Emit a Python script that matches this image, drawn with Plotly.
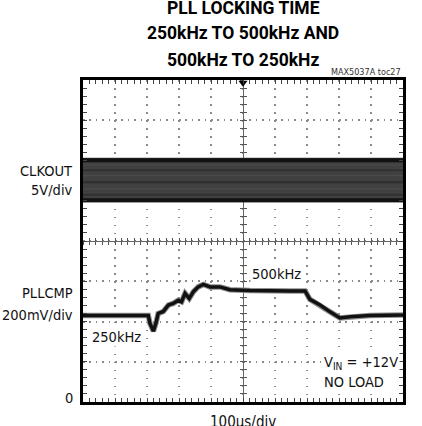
import plotly.graph_objects as go

# ---------------- data (divisions: x 0..10, y 0..8) ----------------
pll_t = [0, 1.78, 2.04, 2.09, 2.20, 2.28, 2.35, 2.51, 2.67, 2.82, 2.98, 3.08,
         3.19, 3.32, 3.45, 3.60, 3.76, 3.97, 4.28, 4.59, 4.91, 5.22, 6.47,
         6.94, 7.09, 7.41, 7.72, 8.03, 8.34, 8.97, 10]
pll_v = [2.15, 2.16, 2.15, 1.96, 1.76, 1.96, 2.20, 2.25, 2.41, 2.45, 2.53, 2.49,
         2.70, 2.57, 2.74, 2.86, 2.92, 2.86, 2.86, 2.79, 2.77, 2.77, 2.76,
         2.76, 2.55, 2.41, 2.24, 2.09, 2.12, 2.15, 2.16]
clk_t = [0, 10]
clk_low = 4.96
clk_high = 6.07

FONT = "DejaVu Sans Condensed, DejaVu Sans, sans-serif"
TFONT = "Roboto, DejaVu Sans Condensed, sans-serif"

fig = go.Figure()

# CLKOUT band (dense clock waveform)
fig.add_trace(go.Scatter(
    x=[clk_t[0], clk_t[1], clk_t[1], clk_t[0], clk_t[0]],
    y=[clk_low, clk_low, clk_high, clk_high, clk_low],
    fill="toself", fillcolor="#404040", mode="lines", line=dict(width=0),
    showlegend=False, hoverinfo="skip"))
streaks = [(0.05, "#111111", 4), (0.94, "#111111", 4), (0.17, "#303030", 2),
           (0.3, "#4d4d4d", 1), (0.45, "#2e2e2e", 2), (0.6, "#4d4d4d", 1),
           (0.72, "#303030", 2), (0.84, "#4a4a4a", 1)]
for frac, col, w in streaks:
    lv = clk_low + frac * (clk_high - clk_low)
    fig.add_trace(go.Scatter(x=clk_t, y=[lv, lv], mode="lines",
                             line=dict(color=col, width=w),
                             showlegend=False, hoverinfo="skip"))

# PLLCMP trace
fig.add_trace(go.Scatter(x=pll_t, y=pll_v, mode="lines",
                         line=dict(color="#8f8f8f", width=5.5),
                         showlegend=False, hoverinfo="skip"))
fig.add_trace(go.Scatter(x=pll_t, y=pll_v, mode="lines",
                         line=dict(color="#111111", width=3.5),
                         showlegend=False, hoverinfo="skip"))

# trigger marker
fig.add_trace(go.Scatter(x=[5], y=[7.93], mode="markers",
                         marker=dict(symbol="triangle-down", size=8, color="black"),
                         cliponaxis=False, showlegend=False, hoverinfo="skip"))

# dummy traces for center graticule axes
for xa, ya in [("x2", "y"), ("x3", "y"), ("x", "y2"), ("x", "y3")]:
    fig.add_trace(go.Scatter(x=[None], y=[None], xaxis=xa, yaxis=ya,
                             showlegend=False, hoverinfo="skip"))

frame = dict(showline=True, linecolor="black", linewidth=3, mirror="allticks",
             ticks="inside", ticklen=4, tickcolor="#444", tickwidth=1,
             showticklabels=False, zeroline=False, showgrid=True,
             gridcolor="#8a8a8a", gridwidth=1.5, fixedrange=True)

fig.update_layout(
    width=422, height=426,
    margin=dict(l=83, r=19, t=80, b=24),
    paper_bgcolor="white", plot_bgcolor="white",
    font=dict(family=FONT, color="#111", size=15),
    xaxis=dict(range=[0, 10], dtick=1, griddash="1.5px,6.55px",
               minor=dict(dtick=0.2, ticks="inside", ticklen=3, tickcolor="#444",
                          showgrid=False), **frame),
    yaxis=dict(range=[0, 8], dtick=1, griddash="1.5px,4.9px",
               minor=dict(dtick=0.2, ticks="inside", ticklen=3, tickcolor="#444",
                          showgrid=False), **frame),
)

center = dict(showline=True, linecolor="#666", linewidth=1.2, ticklen=3,
              tickcolor="#555", tickwidth=1, showticklabels=False, showgrid=False,
              zeroline=False, layer="below traces", fixedrange=True)
fig.update_layout(
    xaxis2=dict(overlaying="x", anchor="free", position=0.5, range=[0, 10], dtick=1,
                ticks="inside", minor=dict(dtick=0.2, ticks="inside", ticklen=3,
                                           tickcolor="#555"), **center),
    xaxis3=dict(overlaying="x", anchor="free", position=0.5, range=[0, 10], dtick=1,
                ticks="outside", minor=dict(dtick=0.2, ticks="outside", ticklen=3,
                                            tickcolor="#555"), **center),
    yaxis2=dict(overlaying="y", anchor="free", position=0.5, range=[0, 8], dtick=1,
                ticks="inside", minor=dict(dtick=0.2, ticks="inside", ticklen=3,
                                           tickcolor="#555"), **center),
    yaxis3=dict(overlaying="y", anchor="free", position=0.5, range=[0, 8], dtick=1,
                ticks="outside", minor=dict(dtick=0.2, ticks="outside", ticklen=3,
                                            tickcolor="#555"), **center),
)

ann = []
# title
title_lines = ["PLL LOCKING TIME", "250kHz TO 500kHz AND", "500kHz TO 250kHz"]
title_px = [8, 33, 60]
for txt, py in zip(title_lines, title_px):
    ann.append(dict(text="<b>" + txt + "</b>", xref="paper", yref="paper",
                    x=0.5, y=1 + (80 - py) / 322, xanchor="center", yanchor="middle",
                    showarrow=False, font=dict(size=17.5, family=TFONT, color="black")))
ann.append(dict(text="MAX5037A toc27", xref="paper", yref="paper", x=1.0,
                y=1 + 8 / 322, xanchor="right", yanchor="middle", showarrow=False,
                font=dict(size=9, color="#333")))
# channel labels on left
for txt, yv in [("CLKOUT", 5.75), ("5V/div", 5.27), ("PLLCMP", 2.71),
                ("200mV/div", 2.16), ("0", 0.09)]:
    ann.append(dict(text=txt, xref="paper", yref="y", x=-0.024, y=yv,
                    xanchor="right", yanchor="middle", showarrow=False,
                    font=dict(size=14.5)))
# inside labels
ann.append(dict(text="250kHz", x=1.05, y=1.61, xanchor="center", yanchor="middle",
                showarrow=False, font=dict(size=14.5), bgcolor="white"))
ann.append(dict(text="500kHz", x=6.06, y=3.18, xanchor="center", yanchor="middle",
                showarrow=False, font=dict(size=14.5), bgcolor="white"))
ann.append(dict(text="V<sub>IN</sub> = +12V", x=7.47, y=0.97, xanchor="left",
                yanchor="middle", showarrow=False, font=dict(size=14.5), bgcolor="white"))
ann.append(dict(text="NO LOAD", x=7.47, y=0.50, xanchor="left", yanchor="middle",
                showarrow=False, font=dict(size=14.5), bgcolor="white"))
# x scale label
ann.append(dict(text="100µs/div", xref="paper", yref="paper", x=0.5, y=-20 / 322,
                xanchor="center", yanchor="middle", showarrow=False,
                font=dict(size=15)))
fig.update_layout(annotations=ann)

fig.write_html("out.html", config={"displayModeBar": False},
               post_script="document.body.style.margin='0px';")
